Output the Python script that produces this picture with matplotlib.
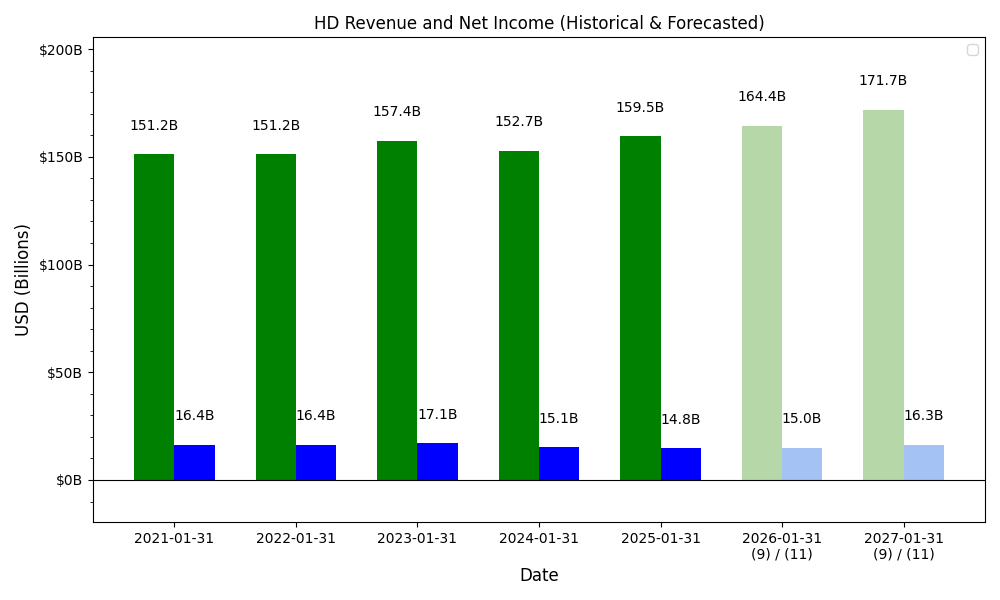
import matplotlib
matplotlib.use("Agg")
import matplotlib.pyplot as plt
import numpy as np
from matplotlib.ticker import FuncFormatter, AutoMinorLocator

dates = ["2021-01-31", "2022-01-31", "2023-01-31", "2024-01-31", "2025-01-31",
         "2026-01-31\n(9) / (11)", "2027-01-31\n(9) / (11)"]
revenue = [151.2, 151.2, 157.4, 152.7, 159.5, 164.4, 171.7]
net_income = [16.4, 16.4, 17.1, 15.1, 14.8, 15.0, 16.3]
forecast = [False, False, False, False, False, True, True]

fig, ax = plt.subplots(figsize=(10, 6), dpi=100)
x = np.arange(len(dates))
w = 0.33
for i in range(len(dates)):
    rc = "#b6d7a8" if forecast[i] else "green"
    nc = "#a4c2f4" if forecast[i] else "blue"
    ax.bar(x[i] - w/2, revenue[i], w, color=rc)
    ax.bar(x[i] + w/2, net_income[i], w, color=nc)
    ax.text(x[i] - w/2, revenue[i] + 10, f"{revenue[i]:.1f}B", ha="center", va="bottom", fontsize=10)
    ax.text(x[i] + w/2, net_income[i] + 10, f"{net_income[i]:.1f}B", ha="center", va="bottom", fontsize=10)

ax.axhline(0, color="black", linewidth=0.8)
ax.set_xticks(x)
ax.set_xticklabels(dates)
ax.set_xlim(-0.67, 6.67)
ax.set_ylim(-19.5, 205.5)
ax.set_yticks([0, 50, 100, 150, 200])
ax.yaxis.set_minor_locator(AutoMinorLocator(5))
ax.yaxis.set_major_formatter(FuncFormatter(lambda v, p: f"${v:.0f}B"))
ax.set_title("HD Revenue and Net Income (Historical & Forecasted)")
ax.set_xlabel("Date", fontsize=12)
ax.set_ylabel("USD (Billions)", fontsize=12)
ax.legend(loc="upper right")
plt.subplots_adjust(left=0.093, right=0.985, top=0.938, bottom=0.13)
fig.savefig("out.png")
